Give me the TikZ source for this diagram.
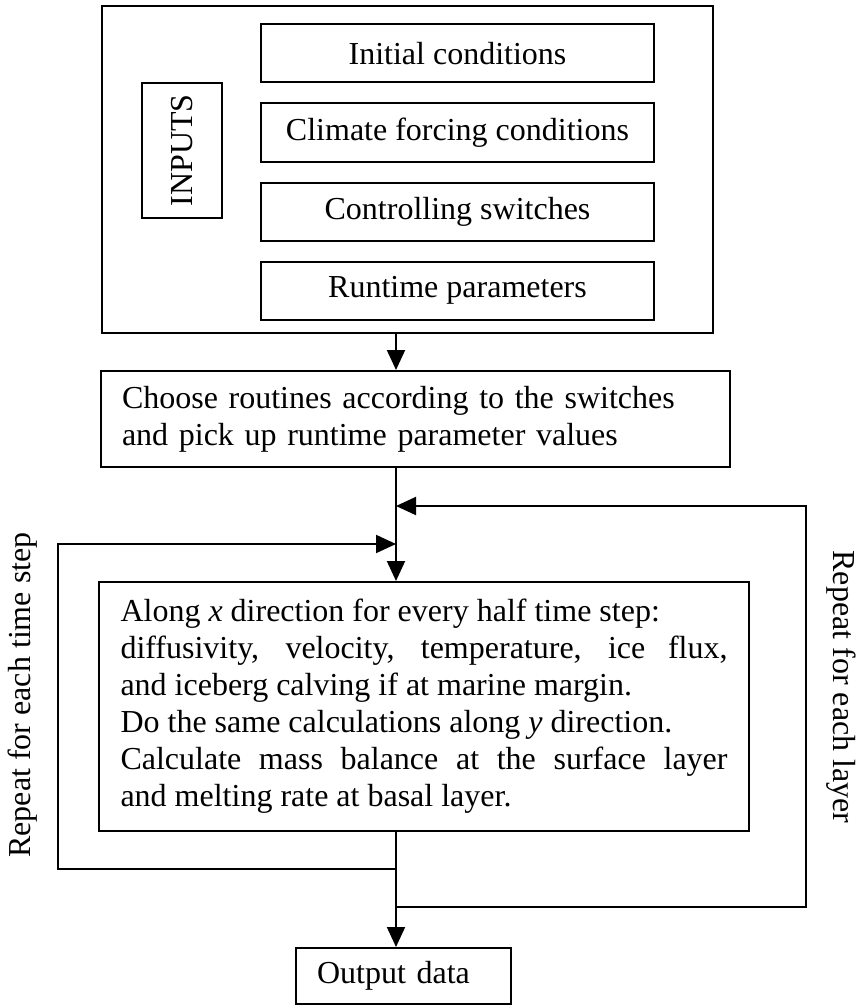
\documentclass[tikz,border=0pt]{standalone}
\usepackage{fontspec}
\setmainfont{Liberation Serif}
\usetikzlibrary{arrows.meta,positioning}

\tikzset{
  box/.style={draw, line width=1pt, inner sep=0pt, align=center},
  inbox/.style={box, minimum width=196.5pt, minimum height=29pt},
  flow/.style={line width=1pt, -{Triangle[length=10pt,width=9pt]}}
}

\begin{document}
\begin{tikzpicture}[x=0.5pt, y=-0.5pt, font=\fontsize{16}{18.5}\selectfont]
  \useasboundingbox (0,0) rectangle (857,1006);

  % inputs block
  \node[box, minimum width=305.5pt, minimum height=163.5pt] (inputs) at (407.5,169.5) {};
  \node[box, minimum width=67.5pt, minimum height=40pt, rotate=90] (inputlabel) at (182,150.5) {INPUTS};
  \node[inbox] (initial) at (457.5,53.5) {Initial conditions};
  \node[inbox, below=9.5pt of initial] (climate) {Climate forcing conditions};
  \node[inbox, below=9.5pt of climate] (switches) {Controlling switches};
  \node[inbox, below=9.5pt of switches] (runtime) {Runtime parameters};

  % processing
  \node[box, text width=293.5pt, align=left, inner xsep=10.5pt, minimum height=48pt] (choose) at (415.5,419)
    {Choose routines according to the switches\\and pick up runtime parameter values};
  \node[box, text width=303.5pt, align=justify, inner xsep=10.75pt, minimum height=124.5pt] (calc) at (424,706.5)
    {Along \textit{x} direction for every half time step:\\
     diffusivity, velocity, temperature, ice flux,\break
     and iceberg calving if at marine margin.\\
     Do the same calculations along \textit{y} direction.\\
     Calculate mass balance at the surface layer\break
     and melting rate at basal layer.};
  \node[box, text width=86.5pt, align=left, inner xsep=10.5pt, minimum height=28pt] (output) at (403.5,976) {Output data};

  % spine and loop joints
  \coordinate (spine) at (396,0);
  \coordinate (layerin) at (396,506);
  \coordinate (stepin) at (396,544);
  \coordinate (stepout) at (396,869);
  \coordinate (layerout) at (396,907);

  \draw[flow] (inputs.south -| spine) -- (choose.north -| spine);
  \draw[flow] (choose.south -| spine) -- (calc.north -| spine);
  \draw[flow] (calc.south -| spine) -- (output.north -| spine);
  \draw[flow] (stepout) -- ++(-338,0) |- (stepin);
  \draw[flow] (layerout) -- ++(410,0) |- (layerin);

  % loop labels
  \node[rotate=90] (steplabel) at (23,695) {Repeat for each time step};
  \node[rotate=-90] (layerlabel) at (841,687) {Repeat for each layer};
\end{tikzpicture}
\end{document}
